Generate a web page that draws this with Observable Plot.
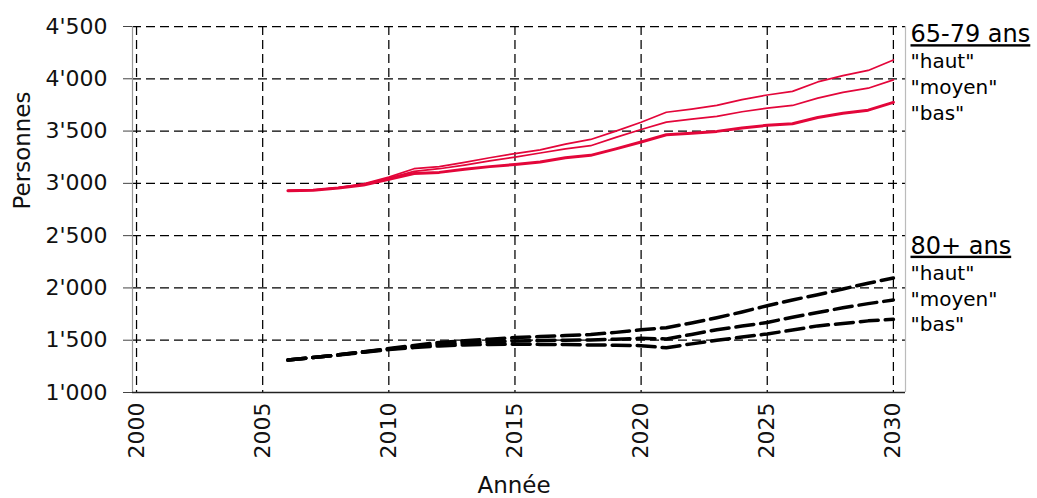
<!DOCTYPE html>
<html><head><meta charset="utf-8">
<script src="https://cdn.jsdelivr.net/npm/d3@7"></script>
<script src="https://cdn.jsdelivr.net/npm/@observablehq/plot@0.6"></script>
<style>html,body{margin:0;padding:0;background:#fff;} #chart{width:1037px;height:498px;}</style>
</head><body><div id="chart"></div>
<script>
// Years of the projection
const years = [2006,2007,2008,2009,2010,2011,2012,2013,2014,2015,2016,2017,2018,2019,2020,2021,2022,2023,2024,2025,2026,2027,2028,2029,2030];

// 65-79 ans (red)
const age6579Haut  = [2930,2935,2960,2995,3060,3140,3160,3200,3245,3285,3320,3375,3420,3500,3585,3680,3710,3745,3800,3845,3880,3970,4030,4080,4180];
const age6579Moyen = [2930,2935,2958,2990,3050,3115,3140,3175,3215,3250,3290,3330,3360,3440,3515,3585,3615,3640,3685,3720,3745,3815,3870,3910,3990];
const age6579Bas   = [2930,2933,2955,2985,3040,3095,3105,3135,3160,3180,3205,3245,3268,3330,3395,3465,3480,3497,3530,3555,3570,3630,3670,3700,3775];

// 80+ ans (black dashed)
const age80Haut  = [1310,1335,1360,1390,1420,1450,1478,1495,1510,1525,1535,1545,1555,1575,1600,1620,1665,1715,1770,1830,1885,1935,1990,2045,2095];
const age80Moyen = [1310,1335,1360,1388,1415,1440,1460,1475,1485,1492,1497,1500,1502,1510,1518,1512,1555,1600,1635,1670,1720,1765,1810,1850,1885];
const age80Bas   = [1310,1335,1358,1385,1410,1430,1445,1455,1460,1462,1460,1458,1455,1452,1448,1428,1465,1500,1530,1560,1597,1637,1660,1685,1700];

// Axes
const xTicks = [2000,2005,2010,2015,2020,2025,2030];
const yTicks = [1000,1500,2000,2500,3000,3500,4000,4500];
const xDomain = [1999.84, 2030.48];
const yDomain = [1000, 4500];
const xLabel = "Année";
const yLabel = "Personnes";

// Legend texts
const legendTitle6579 = "65-79 ans";
const legendTitle80 = "80+ ans";
const scenarioNames = ['"haut"', '"moyen"', '"bas"'];

const red = "#e3063a";
const FONT = "DejaVu Sans, Verdana, sans-serif";

const rows = (vals) => years.map((yr, i) => ({year: yr, value: vals[i]}));
const fmt = v => Math.floor(v / 1000) + "'" + String(v % 1000).padStart(3, "0");

const gridStyle = {stroke: "#000", strokeWidth: 1.25, strokeDasharray: "9,5"};
const leg = (txt, dy, size) => Plot.text([txt], {frameAnchor: "top-right", textAnchor: "start", lineAnchor: "middle", dx: 5, dy, fontSize: size, fill: "#000"});

const plot = Plot.plot({
  width: 1037,
  height: 498,
  marginLeft: 132,
  marginRight: 132,
  marginTop: 26,
  marginBottom: 106,
  style: {fontFamily: FONT, fontSize: "22px", color: "#111", background: "#fff"},
  x: {domain: xDomain, axis: null},
  y: {domain: yDomain, label: null},
  marks: [
    Plot.ruleY(yTicks.slice(1), gridStyle),
    Plot.ruleX(xTicks, gridStyle),
    Plot.ruleX([xDomain[0]], {stroke: "#999", strokeWidth: 1.2}),
    Plot.ruleX([xDomain[1]], {stroke: "#bbb", strokeWidth: 1.2}),
    Plot.ruleY([yDomain[0]], {stroke: "#222", strokeWidth: 1.5}),
    Plot.axisY(yTicks, {tickSize: 9, tickPadding: 16, tickFormat: fmt, fontSize: 22, stroke: "#444", label: null}),
    Plot.text(xTicks, {x: d => d, frameAnchor: "bottom", rotate: -90, textAnchor: "end", lineAnchor: "middle", dy: 10, fontSize: 22, text: d => String(d), fill: "#111"}),
    Plot.text([yLabel], {frameAnchor: "left", rotate: -90, dx: -110, lineAnchor: "middle", fontSize: 23, fill: "#111"}),
    Plot.text([xLabel], {frameAnchor: "bottom", dx: -5, dy: 93.6, lineAnchor: "middle", fontSize: 23, fill: "#111"}),
    // red lines
    Plot.line(rows(age6579Haut), {x: "year", y: "value", stroke: red, strokeWidth: 1.7}),
    Plot.line(rows(age6579Moyen), {x: "year", y: "value", stroke: red, strokeWidth: 1.7}),
    Plot.line(rows(age6579Bas), {x: "year", y: "value", stroke: red, strokeWidth: 3}),
    // black dashed lines
    Plot.line(rows(age80Haut), {x: "year", y: "value", stroke: "#000", strokeWidth: 3.5, strokeDasharray: "18,7"}),
    Plot.line(rows(age80Moyen), {x: "year", y: "value", stroke: "#000", strokeWidth: 3.5, strokeDasharray: "18,7"}),
    Plot.line(rows(age80Bas), {x: "year", y: "value", stroke: "#000", strokeWidth: 3.5, strokeDasharray: "18,7"}),
    // legend
    leg(legendTitle6579, 8, 24),
    leg(scenarioNames[0], 35, 20),
    leg(scenarioNames[1], 61, 20),
    leg(scenarioNames[2], 87, 20),
    leg(legendTitle80, 219.5, 24),
    leg(scenarioNames[0], 247.5, 20),
    leg(scenarioNames[1], 273, 20),
    leg(scenarioNames[2], 298.5, 20)
  ]
});

d3.select(plot).selectAll("text")
  .filter(function() { return this.textContent === legendTitle6579 || this.textContent === legendTitle80; })
  .style("text-decoration", "underline");

document.getElementById("chart").appendChild(plot);
</script>
</body></html>
